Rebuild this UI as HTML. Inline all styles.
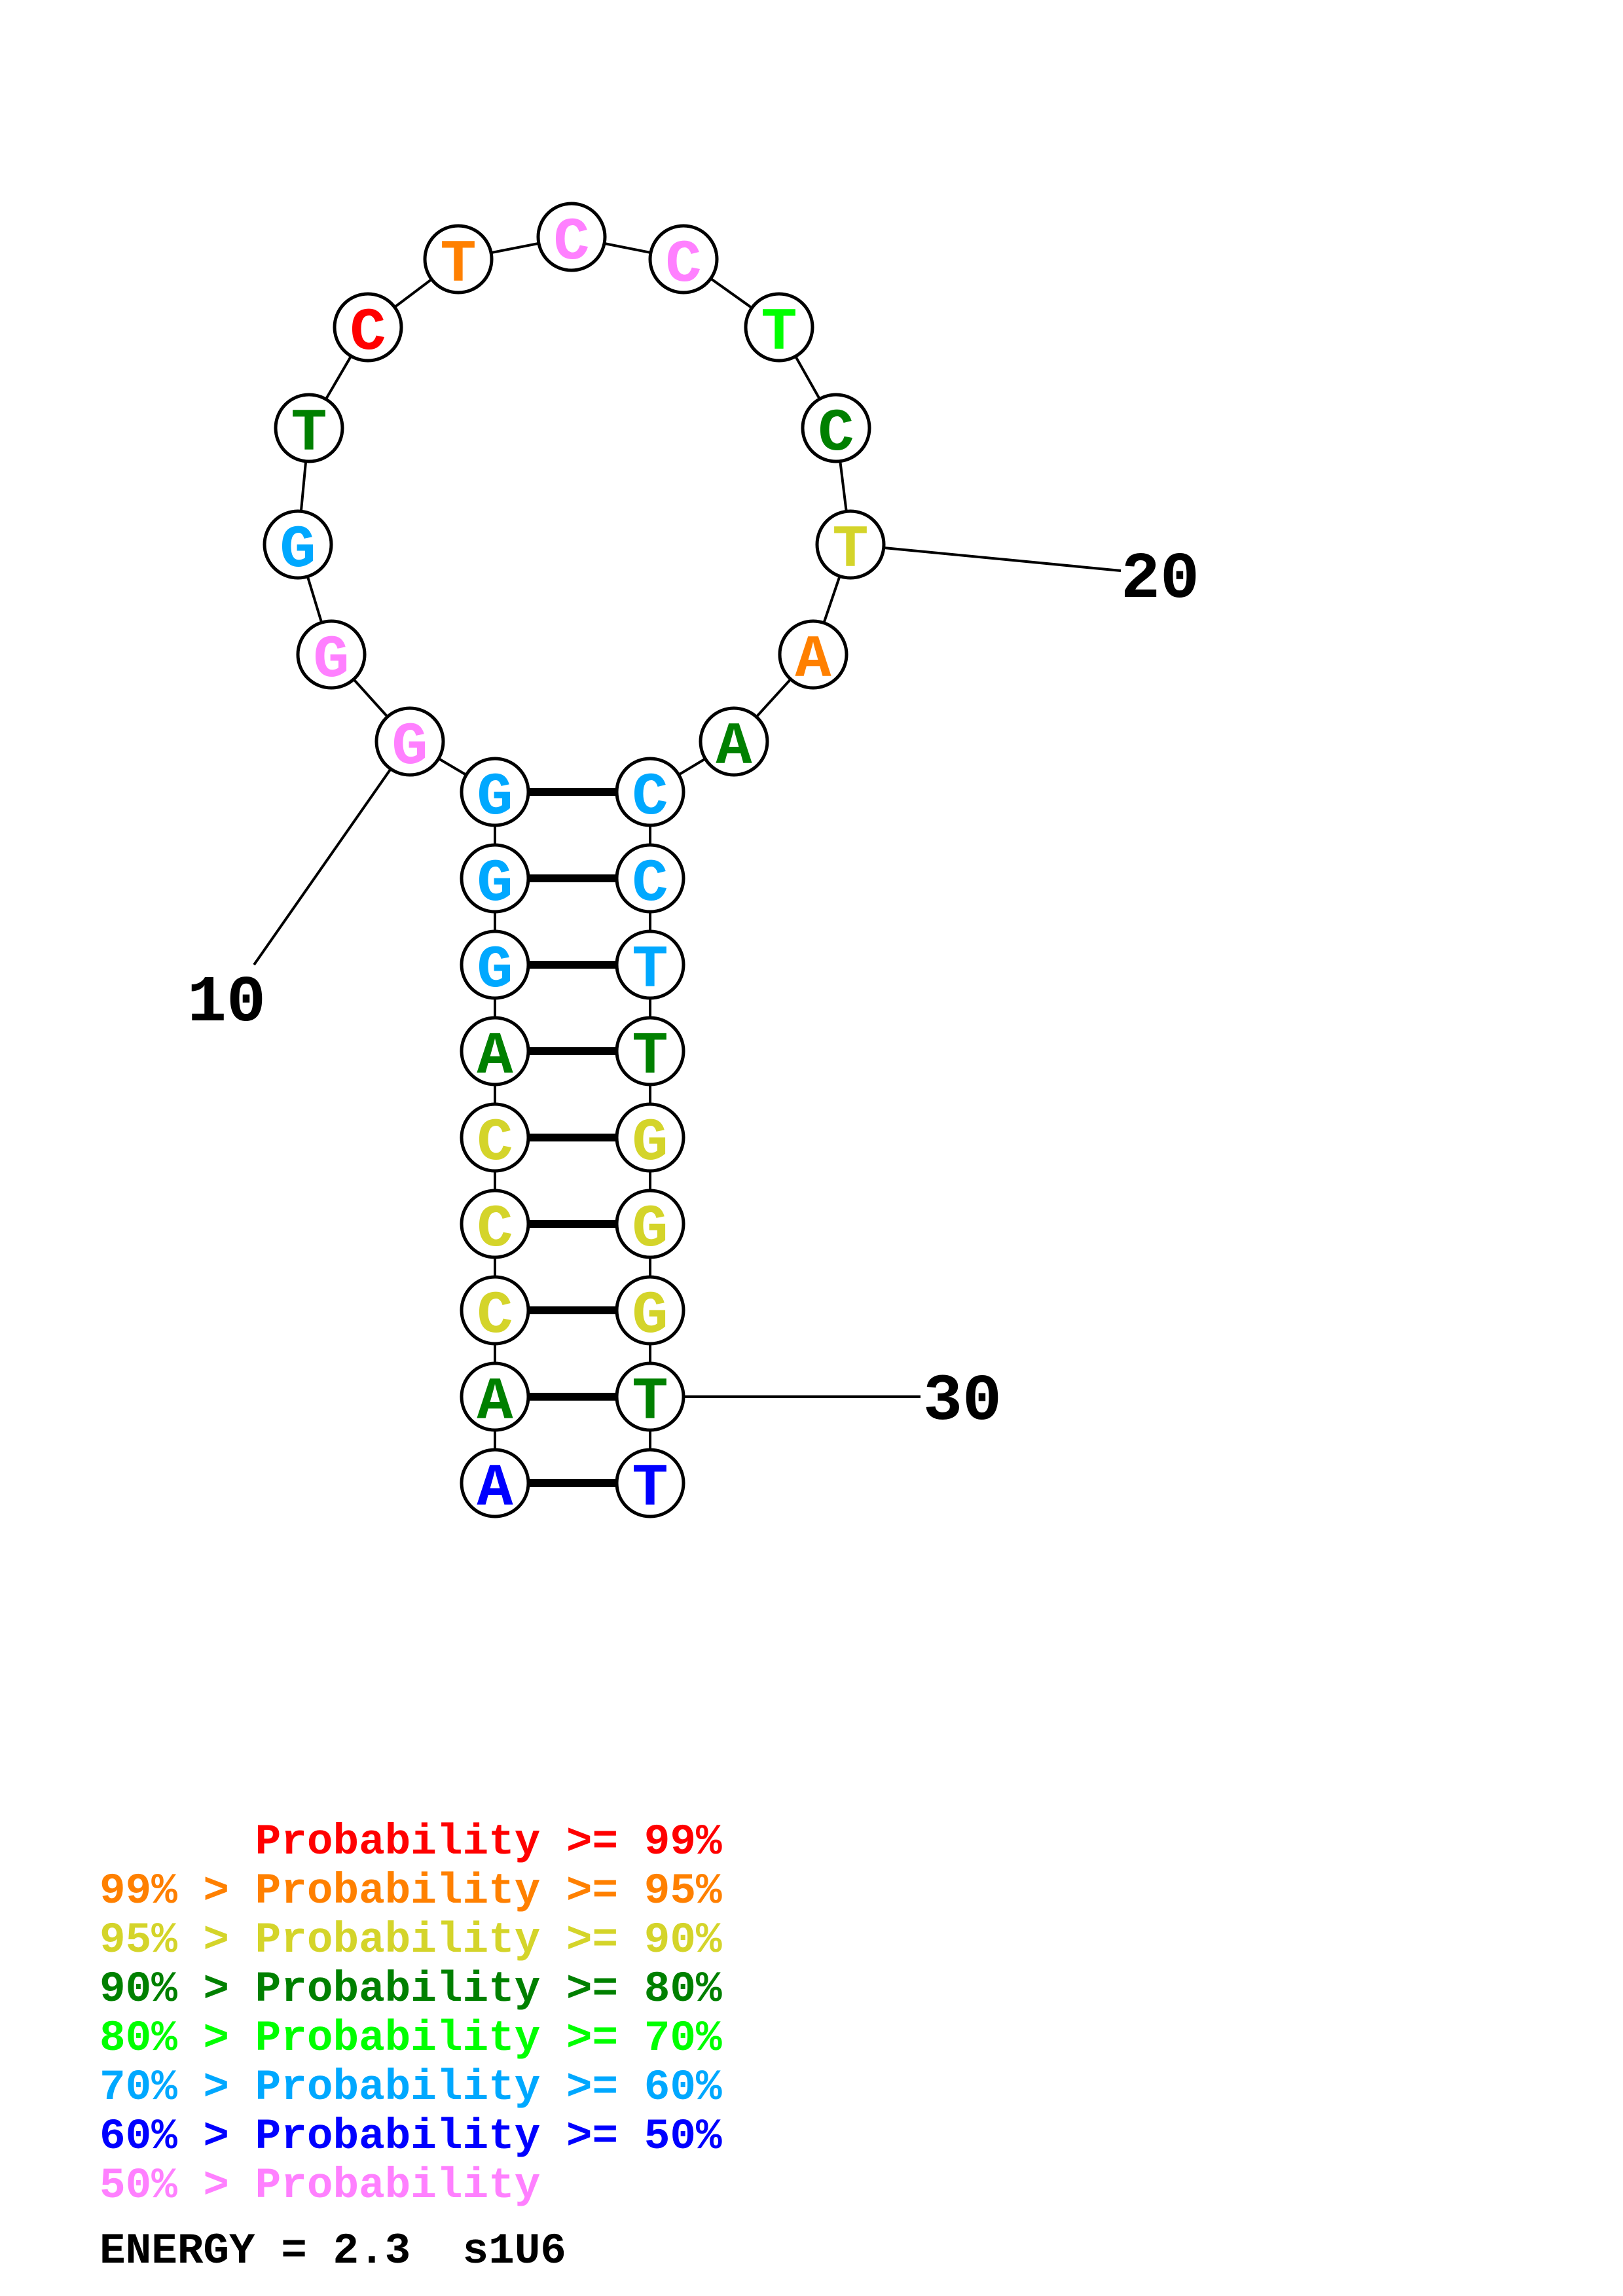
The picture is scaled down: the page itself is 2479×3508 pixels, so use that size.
<!DOCTYPE html>
<html><head><meta charset="utf-8"><style>html,body{margin:0;padding:0;background:#fff}svg{display:block}.pre text{white-space:pre}</style></head>
<body>
<svg xmlns="http://www.w3.org/2000/svg" width="2479" height="3508" viewBox="0 0 2479 3508">
<rect width="2479" height="3508" fill="#fff"/>
<g stroke="#000" stroke-width="4" fill="none">
<polyline points="756,1210 626,1133 506,1000 455,832 472,654 562,500 700,396 873,362 1044,396 1190,500 1277,654 1299,832 1242,1000 1121,1133 993,1210"/>
<line x1="756" y1="1210" x2="756" y2="2266"/>
<line x1="993" y1="1210" x2="993" y2="2266"/>
<line x1="626" y1="1133" x2="388" y2="1474"/>
<line x1="1299" y1="832" x2="1712" y2="872"/>
<line x1="993" y1="2134" x2="1406" y2="2134"/>
</g>
<g stroke="#000" stroke-width="12">
<line x1="756" y1="1210" x2="993" y2="1210"/>
<line x1="756" y1="1342" x2="993" y2="1342"/>
<line x1="756" y1="1474" x2="993" y2="1474"/>
<line x1="756" y1="1606" x2="993" y2="1606"/>
<line x1="756" y1="1738" x2="993" y2="1738"/>
<line x1="756" y1="1870" x2="993" y2="1870"/>
<line x1="756" y1="2002" x2="993" y2="2002"/>
<line x1="756" y1="2134" x2="993" y2="2134"/>
<line x1="756" y1="2266" x2="993" y2="2266"/>
</g>
<g stroke="#000" stroke-width="5" fill="#fff">
<circle cx="626" cy="1133" r="51"/><circle cx="506" cy="1000" r="51"/><circle cx="455" cy="832" r="51"/>
<circle cx="472" cy="654" r="51"/><circle cx="562" cy="500" r="51"/><circle cx="700" cy="396" r="51"/>
<circle cx="873" cy="362" r="51"/><circle cx="1044" cy="396" r="51"/><circle cx="1190" cy="500" r="51"/>
<circle cx="1277" cy="654" r="51"/><circle cx="1299" cy="832" r="51"/><circle cx="1242" cy="1000" r="51"/>
<circle cx="1121" cy="1133" r="51"/>
<circle cx="756" cy="1210" r="51"/><circle cx="756" cy="1342" r="51"/><circle cx="756" cy="1474" r="51"/>
<circle cx="756" cy="1606" r="51"/><circle cx="756" cy="1738" r="51"/><circle cx="756" cy="1870" r="51"/>
<circle cx="756" cy="2002" r="51"/><circle cx="756" cy="2134" r="51"/><circle cx="756" cy="2266" r="51"/>
<circle cx="993" cy="1210" r="51"/><circle cx="993" cy="1342" r="51"/><circle cx="993" cy="1474" r="51"/>
<circle cx="993" cy="1606" r="51"/><circle cx="993" cy="1738" r="51"/><circle cx="993" cy="1870" r="51"/>
<circle cx="993" cy="2002" r="51"/><circle cx="993" cy="2134" r="51"/><circle cx="993" cy="2266" r="51"/>
</g>
<g font-family="'Liberation Mono',monospace" font-weight="bold" font-size="92" text-anchor="middle">
<text x="626" y="1166" fill="#ff80ff">G</text><text x="506" y="1033" fill="#ff80ff">G</text><text x="455" y="865" fill="#00a8ff">G</text>
<text x="472" y="687" fill="#008000">T</text><text x="562" y="533" fill="#ff0000">C</text><text x="700" y="429" fill="#ff8000">T</text>
<text x="873" y="395" fill="#ff80ff">C</text><text x="1044" y="429" fill="#ff80ff">C</text><text x="1190" y="533" fill="#00ff00">T</text>
<text x="1277" y="687" fill="#008000">C</text><text x="1299" y="865" fill="#d4d42a">T</text><text x="1242" y="1033" fill="#ff8000">A</text>
<text x="1121" y="1166" fill="#008000">A</text>
<text x="756" y="1243" fill="#00a8ff">G</text><text x="756" y="1375" fill="#00a8ff">G</text><text x="756" y="1507" fill="#00a8ff">G</text>
<text x="756" y="1639" fill="#008000">A</text><text x="756" y="1771" fill="#d4d42a">C</text><text x="756" y="1903" fill="#d4d42a">C</text>
<text x="756" y="2035" fill="#d4d42a">C</text><text x="756" y="2167" fill="#008000">A</text><text x="756" y="2299" fill="#0000ff">A</text>
<text x="993" y="1243" fill="#00a8ff">C</text><text x="993" y="1375" fill="#00a8ff">C</text><text x="993" y="1507" fill="#00a8ff">T</text>
<text x="993" y="1639" fill="#008000">T</text><text x="993" y="1771" fill="#d4d42a">G</text><text x="993" y="1903" fill="#d4d42a">G</text>
<text x="993" y="2035" fill="#d4d42a">G</text><text x="993" y="2167" fill="#008000">T</text><text x="993" y="2299" fill="#0000ff">T</text>
</g>
<g font-family="'Liberation Mono',monospace" font-weight="bold" font-size="100" fill="#000">
<text x="1712" y="912">20</text>
<text x="286" y="1559">10</text>
<text x="1410" y="2168">30</text>
</g>
<g class="pre" font-family="'Liberation Mono',monospace" font-weight="bold" font-size="66">
<text x="152" y="2832" fill="#ff0000">      Probability &gt;= 99%</text>
<text x="152" y="2907" fill="#ff8000">99% &gt; Probability &gt;= 95%</text>
<text x="152" y="2982" fill="#d4d42a">95% &gt; Probability &gt;= 90%</text>
<text x="152" y="3057" fill="#008000">90% &gt; Probability &gt;= 80%</text>
<text x="152" y="3132" fill="#00ff00">80% &gt; Probability &gt;= 70%</text>
<text x="152" y="3207" fill="#00a8ff">70% &gt; Probability &gt;= 60%</text>
<text x="152" y="3282" fill="#0000ff">60% &gt; Probability &gt;= 50%</text>
<text x="152" y="3357" fill="#ff80ff">50% &gt; Probability</text>
<text x="152" y="3457" fill="#000">ENERGY = 2.3  s1U6</text>
</g>
</svg>
</body></html>
